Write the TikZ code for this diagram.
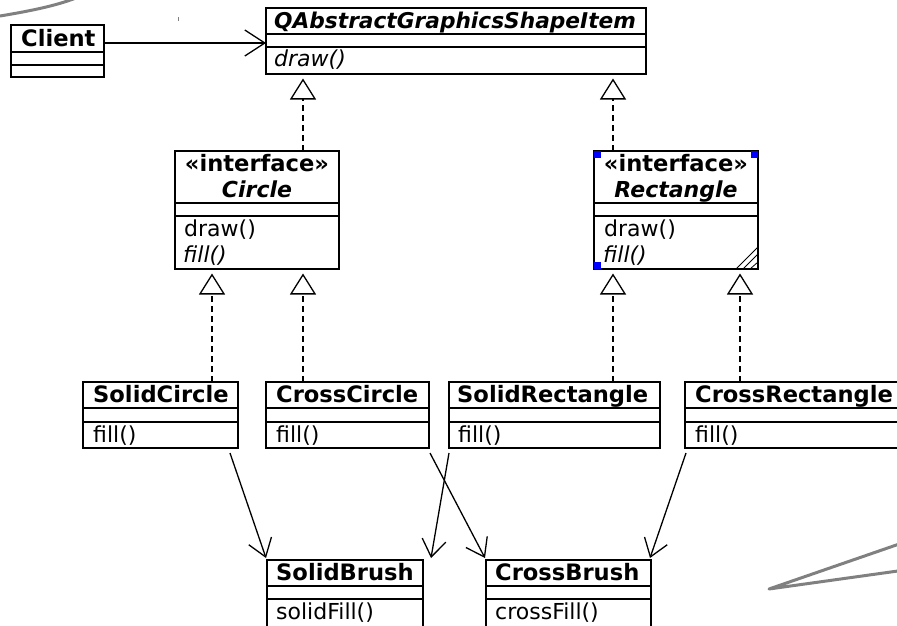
\documentclass[tikz,border=0pt]{standalone}
\usepackage{fontspec}
\setmainfont{DejaVu Sans}
\usetikzlibrary{arrows.meta}

% One class box: name, left, top, right, bottom, first and second separator
\newcommand{\umlclass}[7]{%
  \node[umlbox, minimum width={(#4-(#2))*1pt}, minimum height={(#5-(#3))*1pt}] (#1) at (#2,#3) {};
  \draw[sepline] (#1.west |- 0,#6) -- (#1.east |- 0,#6);
  \draw[sepline] (#1.west |- 0,#7) -- (#1.east |- 0,#7);
}

\begin{document}
\begin{tikzpicture}[x=1pt,y=-1pt,
  umlbox/.style={draw, line width=1.5pt, anchor=north west, inner sep=0pt, outer sep=0pt, fill=white},
  sepline/.style={line width=1.5pt},
  cname/.style={font=\fontsize{22.6}{26}\selectfont\bfseries, anchor=base west, inner sep=0pt},
  cnamei/.style={font=\fontsize{21.7}{26}\selectfont\bfseries\itshape, anchor=base west, inner sep=0pt},
  stereo/.style={font=\fontsize{22.6}{26}\selectfont\bfseries, anchor=base, inner sep=0pt},
  stereoi/.style={font=\fontsize{22}{26}\selectfont\bfseries\itshape, anchor=base, inner sep=0pt},
  member/.style={font=\fontsize{22}{26}\selectfont, anchor=base west, inner sep=0pt},
  memberi/.style={font=\fontsize{22}{26}\selectfont\itshape, anchor=base west, inner sep=0pt},
  realize/.style={line width=1.3pt, dash pattern=on 6pt off 4pt,
    -{Triangle[open, length=21pt, width=26pt, line width=1.3pt]}, shorten >=4.5pt},
  depend/.style={line width=1.3pt, -{Straight Barb[length=17pt, width=24pt, line width=1.3pt]}},
  sketch/.style={draw=gray, line width=3pt, line cap=round, line join=round}
]
\useasboundingbox (0,0) rectangle (897,625);
\clip (0,0) rectangle (897,625);

% loose pen strokes
\draw[sketch] (0,16) .. controls (30,11) and (55,6) .. (76,-2);
\draw[sketch] (905,542) -- (769,589) -- (905,570);
\draw[gray, line width=0.8pt] (178,17) -- (178,21);

% class boxes
\umlclass{Client}{11}{25}{104}{77}{52}{65}
\umlclass{QAGSI}{266}{8}{646}{74}{34}{47}
\umlclass{Circle}{175}{151}{339}{269}{203}{216}
\umlclass{Rectangle}{594}{151}{758}{269}{203}{216}
\umlclass{SolidCircle}{83}{382}{238}{448}{408}{422}
\umlclass{CrossCircle}{266}{382}{429}{448}{408}{422}
\umlclass{SolidRectangle}{449}{382}{660}{448}{408}{422}
\umlclass{CrossRectangle}{685}{382}{915}{448}{408}{422}
\umlclass{SolidBrush}{267}{560}{423}{640}{586}{599}
\umlclass{CrossBrush}{486}{560}{651}{640}{586}{599}

% texts
\node[cname] (tClient) at (21,46) {Client};
\node[cnamei] (tQAGSI) at (274,28) {QAbstractGraphicsShapeItem};
\node[memberi] (mQAGSI) at (274,66) {draw()};

\node[stereo] (sCircle) at (257,171) {«interface»};
\node[stereoi] (tCircle) at (257,197) {Circle};
\node[member] (m1Circle) at (184,236) {draw()};
\node[memberi] (m2Circle) at (183,262) {fill()};

\node[stereo] (sRect) at (676,171) {«interface»};
\node[stereoi] (tRect) at (676,197) {Rectangle};
\node[member] (m1Rect) at (604,236) {draw()};
\node[memberi] (m2Rect) at (603,262) {fill()};

\node[cname] (tSC) at (93,402) {SolidCircle};
\node[member] (mSC) at (93,442) {fill()};
\node[cname] (tCC) at (276,402) {CrossCircle};
\node[member] (mCC) at (276,442) {fill()};
\node[cname] (tSR) at (457,402) {SolidRectangle};
\node[member] (mSR) at (458,442) {fill()};
\node[cname] (tCR) at (695,402) {CrossRectangle};
\node[member] (mCR) at (695,442) {fill()};
\node[cname] (tSB) at (276,580) {SolidBrush};
\node[member] (mSB) at (276,619) {solidFill()};
\node[cname] (tCB) at (495,580) {CrossBrush};
\node[member] (mCB) at (495,619) {crossFill()};

% selection handles and resize grip on Rectangle
\fill[blue] (594,151) rectangle (601,158);
\fill[blue] (751,151) rectangle (758,158);
\fill[blue] (594,262) rectangle (601,269);
\draw[line width=0.8pt] (736,269) -- (758,247);
\draw[line width=0.8pt] (743,269) -- (758,254);
\draw[line width=0.8pt] (750,269) -- (758,262);

% association
\coordinate (yClient) at (0,43);
\draw[line width=1.3pt, -{Straight Barb[length=20pt, width=26pt, line width=1.3pt]}]
  (Client.east |- yClient) -- (QAGSI.west |- yClient);

% realizations
\coordinate (xL) at (303,0);
\coordinate (xR) at (613,0);
\coordinate (xSC) at (212,0);
\coordinate (xCC) at (303,0);
\coordinate (xSR) at (613,0);
\coordinate (xCR) at (740,0);
\draw[realize] (Circle.north -| xL) -- (QAGSI.south -| xL);
\draw[realize] (Rectangle.north -| xR) -- (QAGSI.south -| xR);
\draw[realize] (SolidCircle.north -| xSC) -- (Circle.south -| xSC);
\draw[realize] (CrossCircle.north -| xCC) -- (Circle.south -| xCC);
\draw[realize] (SolidRectangle.north -| xSR) -- (Rectangle.south -| xSR);
\draw[realize] (CrossRectangle.north -| xCR) -- (Rectangle.south -| xCR);

% dependencies
\draw[depend] ([xshift=-8pt,yshift=-5pt]SolidCircle.south east) -- ([xshift=-1pt,yshift=2pt]SolidBrush.north west);
\draw[depend] ([xshift=1pt,yshift=-5pt]CrossCircle.south east) -- ([xshift=-1pt,yshift=2pt]CrossBrush.north west);
\draw[depend] ([yshift=-5pt]SolidRectangle.south west) -- ([xshift=8pt,yshift=2pt]SolidBrush.north east);
\draw[depend] ([xshift=1pt,yshift=-5pt]CrossRectangle.south west) -- ([xshift=-1pt,yshift=2pt]CrossBrush.north east);
\end{tikzpicture}
\end{document}
